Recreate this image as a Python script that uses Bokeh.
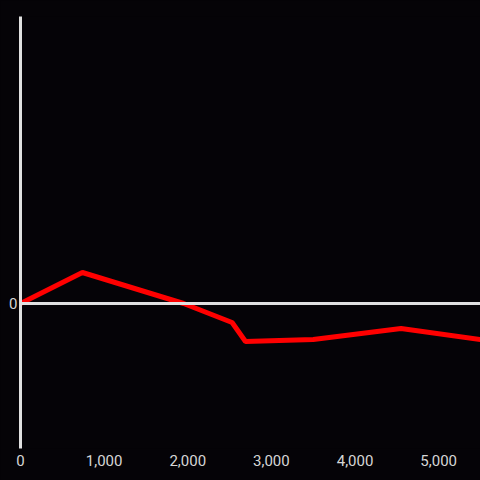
from bokeh.plotting import figure
from bokeh.models import Range1d, FixedTicker, NumeralTickFormatter, Span
from bokeh.embed import file_html
from bokeh.resources import INLINE

# data
xs = [0, 740, 1950, 2530, 2690, 3500, 4550, 5500]
ys = [0, 31, 0, -19, -38, -36, -25, -36]
x_ticks = [0, 1000, 2000, 3000, 4000, 5000]
y_ticks = [0]

BG = "#050307"
AX = "#e0e0e0"
LBL = "#d6d6d6"

p = figure(width=480, height=480, output_backend="svg", toolbar_location=None,
           x_range=Range1d(0, 5500), y_range=Range1d(-145, 287),
           background_fill_color=BG, border_fill_color=BG,
           min_border_left=20, min_border_right=0, min_border_top=16, min_border_bottom=32)
p.outline_line_color = None
p.grid.visible = False

p.add_layout(Span(location=0, dimension="width", line_color=AX, line_width=3))
p.line(xs, ys, line_color="#ff0000", line_width=5)

p.xaxis.ticker = FixedTicker(ticks=x_ticks)
p.xaxis.formatter = NumeralTickFormatter(format="0,0")
p.xaxis.axis_line_color = None
p.xaxis.major_tick_line_color = None
p.xaxis.minor_tick_line_color = None
p.xaxis.major_label_standoff = 0
p.xaxis.major_label_text_color = LBL
p.xaxis.major_label_text_font = "Roboto"
p.xaxis.major_label_text_font_size = "15px"

p.yaxis.ticker = FixedTicker(ticks=y_ticks)
p.yaxis.axis_line_color = AX
p.yaxis.axis_line_width = 3
p.yaxis.major_tick_line_color = None
p.yaxis.minor_tick_line_color = None
p.yaxis.major_label_standoff = -3
p.yaxis.major_label_text_color = LBL
p.yaxis.major_label_text_font = "Roboto"
p.yaxis.major_label_text_font_size = "15px"

html = file_html(p, INLINE)
html = html.replace("<body>", '<body style="background:#050307">')
open("out.html", "w").write(html)
